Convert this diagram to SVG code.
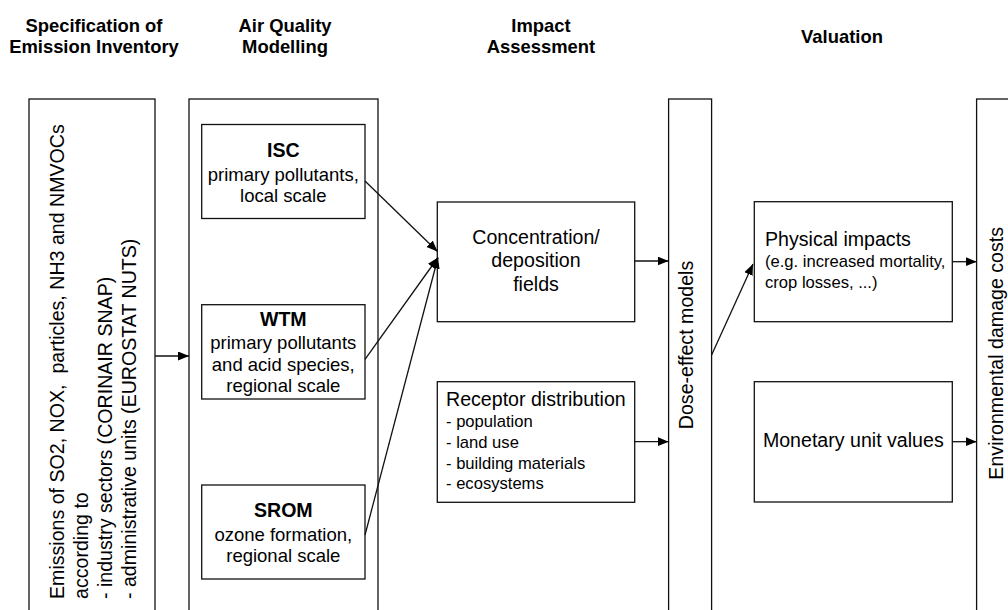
<svg xmlns="http://www.w3.org/2000/svg" width="1008" height="610" viewBox="0 0 1008 610">
<style>
  .box { fill: #fff; stroke: #111; stroke-width: 1.3; }
  .t { font-family: "Liberation Sans", Arial, sans-serif; font-size: 19.6px; fill: #000; }
  .m { font-family: "Liberation Sans", Arial, sans-serif; font-size: 18.5px; fill: #000; }
  .s { font-family: "Liberation Sans", Arial, sans-serif; font-size: 16.6px; fill: #000; }
  .h { font-family: "Liberation Sans", Arial, sans-serif; font-size: 19.6px; font-weight: bold; fill: #000; }
  .title { font-family: "Liberation Sans", Arial, sans-serif; font-size: 18.4px; font-weight: bold; fill: #000; text-anchor: middle; }
  .c { text-anchor: middle; }
  .conn line { stroke: #111; stroke-width: 1.3; marker-end: url(#arr); }
</style>
<defs>
  <marker id="arr" markerUnits="userSpaceOnUse" markerWidth="12" markerHeight="10" refX="11" refY="4.5" orient="auto">
    <path d="M0,0 L11,4.5 L0,9 z" fill="#000"/>
  </marker>
</defs>
<rect width="1008" height="610" fill="#fff"/>

<g id="titles">
  <text class="title" x="94" y="32">Specification of</text>
  <text class="title" x="94" y="53">Emission Inventory</text>
  <text class="title" x="285" y="32">Air Quality</text>
  <text class="title" x="285" y="53">Modelling</text>
  <text class="title" x="541" y="32">Impact</text>
  <text class="title" x="541" y="53">Assessment</text>
  <text class="title" x="842" y="42.5">Valuation</text>
</g>

<g id="emission-inventory">
  <rect class="box" x="29" y="99" width="126" height="530"/>
  <g class="t">
    <text transform="translate(64,599) rotate(-90)">Emissions of SO2, NOX,&#160; particles, NH3 and NMVOCs</text>
    <text transform="translate(88,599) rotate(-90)">according to</text>
    <text transform="translate(112,599) rotate(-90)">- industry sectors (CORINAIR SNAP)</text>
    <text transform="translate(136,599) rotate(-90)">- administrative units (EUROSTAT NUTS)</text>
  </g>
</g>

<g id="air-quality-modelling">
  <rect class="box" x="189" y="99" width="189" height="530"/>
</g>

<g id="isc">
  <rect class="box" x="201.7" y="124.5" width="163.3" height="94"/>
  <text class="h c" x="283.3" y="157">ISC</text>
  <text class="m c" x="283.3" y="181">primary pollutants,</text>
  <text class="m c" x="283.3" y="202">local scale</text>
</g>

<g id="wtm">
  <rect class="box" x="201.7" y="304.7" width="163.3" height="94.3"/>
  <text class="h c" x="283.3" y="326">WTM</text>
  <text class="m c" x="283.3" y="349">primary pollutants</text>
  <text class="m c" x="283.3" y="370.5">and acid species,</text>
  <text class="m c" x="283.3" y="392">regional scale</text>
</g>

<g id="srom">
  <rect class="box" x="201.7" y="485" width="163.3" height="94"/>
  <text class="h c" x="283.3" y="517">SROM</text>
  <text class="m c" x="283.3" y="540.5">ozone formation,</text>
  <text class="m c" x="283.3" y="561.5">regional scale</text>
</g>

<g id="concentration">
  <rect class="box" x="437.3" y="202" width="197.4" height="119.7"/>
  <text class="t c" x="536" y="244">Concentration/</text>
  <text class="t c" x="536" y="267.3">deposition</text>
  <text class="t c" x="536" y="290.7">fields</text>
</g>

<g id="receptor">
  <rect class="box" x="437.3" y="381.7" width="197.4" height="120.6"/>
  <text class="t" x="446" y="406">Receptor distribution</text>
  <text class="s" x="446" y="426.7">- population</text>
  <text class="s" x="446" y="447.7">- land use</text>
  <text class="s" x="446" y="468.5">- building materials</text>
  <text class="s" x="446" y="489">- ecosystems</text>
</g>

<g id="dose-effect">
  <rect class="box" x="668.6" y="99" width="43" height="530"/>
  <text class="t c" transform="translate(693.3,345) rotate(-90)">Dose-effect models</text>
</g>

<g id="physical-impacts">
  <rect class="box" x="754.3" y="201.7" width="198" height="120"/>
  <text class="t" x="765" y="245.7">Physical impacts</text>
  <text class="s" x="765" y="266.7">(e.g. increased mortality,</text>
  <text class="s" x="765" y="287.5">crop losses, ...)</text>
</g>

<g id="monetary">
  <rect class="box" x="754.3" y="381.7" width="198" height="120.3"/>
  <text class="t c" x="853.3" y="446.5">Monetary unit values</text>
</g>

<g id="environmental-damage">
  <rect class="box" x="976.6" y="99" width="60" height="530"/>
  <text class="t c" transform="translate(1002.7,353.3) rotate(-90)">Environmental damage costs</text>
</g>

<g id="connectors" class="conn">
  <line x1="155" y1="356" x2="189" y2="356"/>
  <line x1="365" y1="181" x2="437.5" y2="251.5"/>
  <line x1="365" y1="359.3" x2="438" y2="257.5"/>
  <line x1="365" y1="535" x2="438" y2="257.5"/>
  <line x1="634.7" y1="261" x2="668.6" y2="261"/>
  <line x1="634.7" y1="441.7" x2="668.6" y2="441.7"/>
  <line x1="711.6" y1="355" x2="753" y2="264"/>
  <line x1="952.3" y1="261.7" x2="976.6" y2="261.7"/>
  <line x1="952.3" y1="441.7" x2="976.6" y2="441.7"/>
</g>
</svg>
